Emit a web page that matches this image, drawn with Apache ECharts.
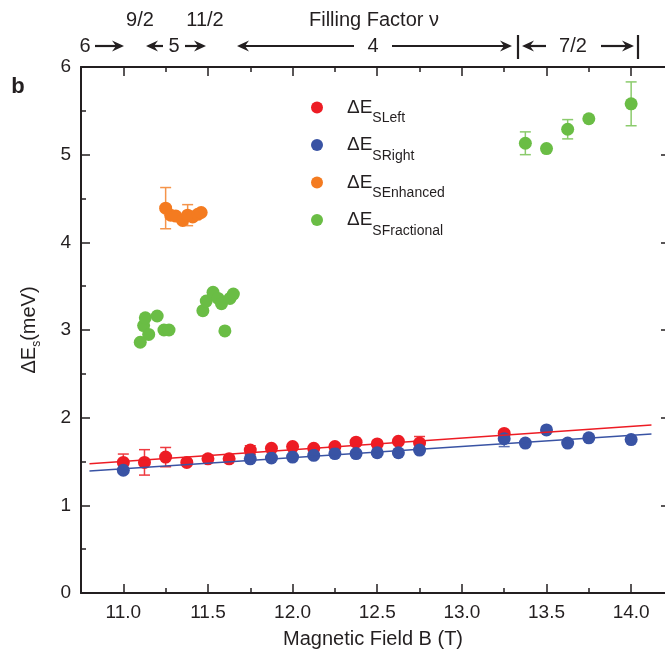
<!DOCTYPE html>
<html><head><meta charset="utf-8">
<script src="https://cdn.jsdelivr.net/npm/echarts@6/dist/echarts.min.js"></script>
<style>html,body{margin:0;padding:0;background:#fff}#c{width:665px;height:657px}</style>
</head><body><div id="c"></div><script>
// ---- data ----
const leftB   = [11.0, 11.125, 11.25, 11.375, 11.5, 11.625, 11.75, 11.875, 12.0, 12.125, 12.25, 12.375, 12.5, 12.625, 12.75, 13.25];
const leftE   = [1.49, 1.49, 1.55, 1.49, 1.53, 1.53, 1.63, 1.65, 1.67, 1.65, 1.67, 1.72, 1.70, 1.73, 1.71, 1.82];
const leftErr = [0.095, 0.145, 0.11, 0, 0, 0, 0.05, 0, 0, 0, 0, 0, 0, 0, 0.075, 0];

const rightB   = [11.0, 11.75, 11.875, 12.0, 12.125, 12.25, 12.375, 12.5, 12.625, 12.75, 13.25, 13.375, 13.5, 13.625, 13.75, 14.0];
const rightE   = [1.40, 1.53, 1.54, 1.55, 1.57, 1.59, 1.59, 1.60, 1.60, 1.63, 1.76, 1.71, 1.86, 1.71, 1.77, 1.75];
const rightErr = [0, 0, 0, 0, 0, 0, 0, 0, 0, 0, 0.09, 0, 0, 0, 0, 0];

const enhB   = [11.25, 11.28, 11.31, 11.35, 11.38, 11.41, 11.44, 11.46];
const enhE   = [4.39, 4.31, 4.30, 4.25, 4.31, 4.29, 4.32, 4.34];
const enhErr = [0.235, 0, 0, 0, 0.12, 0, 0, 0];

const fracB   = [11.10, 11.12, 11.13, 11.15, 11.20, 11.24, 11.27, 11.47, 11.49, 11.53, 11.56, 11.58, 11.60, 11.63, 11.65, 13.375, 13.5, 13.625, 13.75, 14.0];
const fracE   = [2.86, 3.05, 3.14, 2.95, 3.16, 3.00, 3.00, 3.22, 3.33, 3.43, 3.36, 3.30, 2.99, 3.36, 3.41, 5.13, 5.07, 5.29, 5.41, 5.58];
const fracErr = [0, 0, 0, 0, 0, 0, 0, 0, 0, 0, 0, 0, 0, 0, 0, 0.13, 0, 0.11, 0, 0.25];

const fitLeftB  = [10.8, 14.12];
const fitLeftE  = [1.474, 1.916];
const fitRightB = [10.8, 14.12];
const fitRightE = [1.392, 1.813];

const xMajorTicks = [11.0, 11.5, 12.0, 12.5, 13.0, 13.5, 14.0];
const xMinorTicks = [11.25, 11.75, 12.25, 12.75, 13.25, 13.75];
const seriesNames = ['ΔE_SLeft', 'ΔE_SRight', 'ΔE_SEnhanced', 'ΔE_SFractional'];
const subLabels   = ['SLeft', 'SRight', 'SEnhanced', 'SFractional'];

// ---- style ----
const INK = '#231f20';
const FONT = 'Liberation Sans, Arial, sans-serif';
const COLORS = ['#ED1C24', '#3953A4', '#F47B20', '#6ABD45'];
const ERRCOL = ['#EE3A40', '#5A70B4', '#F5944A', '#8BCB6C'];

const zip = (a, b) => a.map((v, i) => [v, b[i]]);
const zip3 = (a, b, c) => a.map((v, i) => [v, b[i], c[i]]).filter(d => d[2] > 0);

function errSeries(data, color) {
  return {
    type: 'custom', xAxisIndex: 0, yAxisIndex: 0, z: 1, silent: true,
    data: data,
    renderItem: function (params, api) {
      const x = api.value(0), y = api.value(1), e = api.value(2);
      const t = api.coord([x, y + e]), b = api.coord([x, y - e]);
      const hw = 5.5, st = { stroke: color, lineWidth: 1.5 };
      return { type: 'group', children: [
        { type: 'line', shape: { x1: t[0], y1: t[1], x2: b[0], y2: b[1] }, style: st },
        { type: 'line', shape: { x1: t[0] - hw, y1: t[1], x2: t[0] + hw, y2: t[1] }, style: st },
        { type: 'line', shape: { x1: b[0] - hw, y1: b[1], x2: b[0] + hw, y2: b[1] }, style: st }
      ]};
    }
  };
}

function scatter(name, data, color) {
  return { name: name, type: 'scatter', xAxisIndex: 0, yAxisIndex: 0, z: 2,
    symbol: 'circle', symbolSize: 13, itemStyle: { color: color, opacity: 1 }, data: data };
}
function fitLine(data, color) {
  return { type: 'line', xAxisIndex: 0, yAxisIndex: 0, z: 3, symbol: 'none', silent: true,
    lineStyle: { color: color, width: 1.5 }, data: data };
}

// ---- annotation graphics (top filling-factor bar) ----
const ROW = 46;
function arrow(x1, x2) { // tail x1 -> head x2
  const dir = x2 > x1 ? 1 : -1;
  const hx = x2, L = 12, W = 5.5, N = 8;
  return { type: 'group', children: [
    { type: 'line', shape: { x1: x1, y1: ROW, x2: hx - dir * N, y2: ROW }, style: { stroke: INK, lineWidth: 2.2 } },
    { type: 'polygon', shape: { points: [[hx, ROW], [hx - dir * L, ROW - W], [hx - dir * N, ROW], [hx - dir * L, ROW + W]] }, style: { fill: INK } }
  ]};
}
function bar(x) {
  return { type: 'line', shape: { x1: x, y1: 35, x2: x, y2: 59 }, style: { stroke: INK, lineWidth: 2.2 } };
}
function txt(x, y, s, size, weight) {
  return { type: 'text', x: x, y: y, style: { text: s, fill: INK, font: (weight || 'normal') + ' ' + (size || 20) + 'px ' + FONT, textAlign: 'center', textVerticalAlign: 'middle' } };
}

const graphics = [
  txt(374, 20, 'Filling Factor ν'),
  txt(140, 20, '9/2'),
  txt(205, 20, '11/2'),
  txt(85, ROW, '6'),
  arrow(95, 124),
  arrow(163, 146),
  txt(174, ROW, '5'),
  arrow(185, 206),
  arrow(354, 237),
  txt(373, ROW, '4'),
  arrow(392, 512),
  bar(518),
  arrow(546, 522),
  txt(573, ROW, '7/2'),
  arrow(601, 634),
  bar(638),
  txt(18, 87, 'b', 22, 'bold')
];

const xBase = { type: 'value', gridIndex: 0, min: 10.75, max: 14.2, splitLine: { show: false } };
function xAx(pos, ticks, len, showLine, showLabel) {
  return Object.assign({}, xBase, {
    position: pos,
    axisLine: { show: showLine, onZero: false, lineStyle: { color: INK, width: 2 } },
    axisTick: { show: true, inside: true, length: len, customValues: ticks, lineStyle: { color: INK, width: 1.5 } },
    axisLabel: { show: showLabel, customValues: xMajorTicks, formatter: v => v.toFixed(1), fontSize: 19, color: INK, fontFamily: FONT, margin: 10 }
  });
}
const xAxes = [
  Object.assign(xAx('bottom', xMajorTicks, 9, true, true), { name: 'Magnetic Field B (T)', nameLocation: 'middle', nameGap: 36, nameTextStyle: { fontSize: 20, color: INK, fontFamily: FONT } }),
  xAx('bottom', xMinorTicks, 5, false, false),
  xAx('top', xMajorTicks, 9, true, false),
  xAx('top', xMinorTicks, 5, false, false)
];
const yAxes = [
  { type: 'value', position: 'left', min: 0, max: 6, interval: 1, splitLine: { show: false },
    axisLine: { show: true, onZero: false, lineStyle: { color: INK, width: 2 } },
    axisTick: { inside: true, length: 9, lineStyle: { color: INK, width: 1.5 } },
    minorTick: { show: true, splitNumber: 2, length: 5, lineStyle: { color: INK, width: 1.5 } },
    axisLabel: { fontSize: 19, color: INK, fontFamily: FONT, margin: 10 },
    name: '{a|ΔE}{s|s}{a|(meV)}', nameLocation: 'middle', nameRotate: 90, nameGap: 38,
    nameTextStyle: { color: INK, fontFamily: FONT, rich: {
      a: { fontSize: 20, color: INK, fontFamily: FONT, lineHeight: 28, verticalAlign: 'middle' },
      s: { fontSize: 12, color: INK, fontFamily: FONT, lineHeight: 12, verticalAlign: 'bottom' } } } },
  { type: 'value', position: 'right', min: 0, max: 6, interval: 1, splitLine: { show: false },
    axisLine: { show: false, onZero: false },
    axisTick: { show: true, inside: true, length: 4, lineStyle: { color: INK, width: 1.5 } },
    axisLabel: { show: false } }
];

const option = {
  animation: false,
  backgroundColor: '#fff',
  textStyle: { fontFamily: FONT },
  grid: { left: 81, right: 0, top: 67, bottom: 64, containLabel: false },
  xAxis: xAxes,
  yAxis: yAxes,
  legend: {
    data: seriesNames, orient: 'vertical', left: 311, top: 98, padding: 0,
    icon: 'circle', itemWidth: 50, itemHeight: 12, itemGap: 10, selectedMode: false,
    formatter: name => '{a|ΔE}{s|' + subLabels[seriesNames.indexOf(name)] + '}',
    textStyle: { color: INK, fontFamily: FONT, rich: {
      a: { fontSize: 19, color: INK, fontFamily: FONT, lineHeight: 36, verticalAlign: 'middle' },
      s: { fontSize: 14, color: INK, fontFamily: FONT, lineHeight: 14, verticalAlign: 'bottom' } } }
  },
  graphic: graphics,
  series: [
    errSeries(zip3(leftB, leftE, leftErr), ERRCOL[0]),
    errSeries(zip3(rightB, rightE, rightErr), ERRCOL[1]),
    errSeries(zip3(enhB, enhE, enhErr), ERRCOL[2]),
    errSeries(zip3(fracB, fracE, fracErr), ERRCOL[3]),
    scatter(seriesNames[0], zip(leftB, leftE), COLORS[0]),
    scatter(seriesNames[1], zip(rightB, rightE), COLORS[1]),
    scatter(seriesNames[2], zip(enhB, enhE), COLORS[2]),
    scatter(seriesNames[3], zip(fracB, fracE), COLORS[3]),
    fitLine(zip(fitLeftB, fitLeftE), COLORS[0]),
    fitLine(zip(fitRightB, fitRightE), COLORS[1])
  ]
};
const chart = echarts.init(document.getElementById('c'), null, { renderer: 'canvas' });
chart.setOption(option);
</script></body></html>
